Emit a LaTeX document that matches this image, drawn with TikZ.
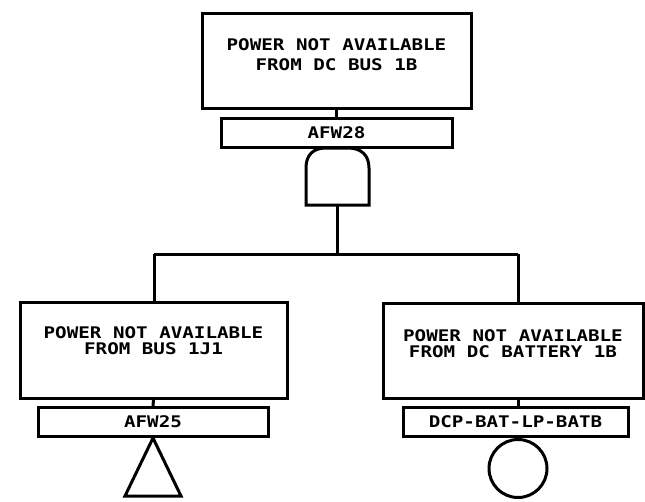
\documentclass[tikz,border=0pt]{standalone}
\usepackage{fontspec}
\newfontfamily\plotfont[FakeStretch=1.2]{DejaVu Sans Mono}
\begin{document}
\begin{tikzpicture}[x=1pt,y=-1pt,line width=3pt,
  evbox/.style={draw,fill=white,rectangle,inner sep=0pt},
  ttl/.style={font=\plotfont\bfseries\fontsize{16}{16}\selectfont,align=center,inner sep=0pt},
  lbl/.style={evbox,minimum height=29,font=\plotfont\bfseries\fontsize{16}{14}\selectfont}]
\useasboundingbox (0,0) rectangle (645,501);
% top event
\node[evbox,minimum width=269,minimum height=95] (topev) at (336.5,60.5) {};
\node[ttl,font=\plotfont\bfseries\fontsize{16}{20}\selectfont] (topt) at ([yshift=5.5pt]topev.center) {POWER NOT AVAILABLE\\FROM DC BUS 1B};
\node[lbl,minimum width=231] (g28) at (336.5,132.5) {AFW28};
\draw (topev.south) -- (g28.north);
% AND gate
\draw[fill=white] (306,205) -- (306,168) .. controls (306,155) and (313,148) .. (326,148) -- (348,148) .. controls (361,148) and (369,155) .. (369,168) -- (369,205) -- cycle;
\coordinate (andout) at (337.5,205);
\coordinate (bar) at (337.5,254);
\coordinate (barL) at (154,254);
\coordinate (barR) at (518,254);
\draw (andout) -- (bar);
\draw (barL) -- (barR);
% left event
\node[evbox,minimum width=267,minimum height=96] (lev) at (153.5,350) {};
\node[ttl] (levt) at ([yshift=9pt]lev.center) {POWER NOT AVAILABLE\\FROM BUS 1J1};
\node[lbl,minimum width=230] (g25) at (153,422) {AFW25};
\draw (barL) -- (barL |- lev.north);
\draw (lev.south) -- (g25.north);
\draw (g25.south) -- ++(-28,58) -- ++(56,0) -- cycle;
% right event
\node[evbox,minimum width=260,minimum height=95] (rev) at (513,350.5) {};
\node[ttl] (revt) at ([yshift=6.5pt]rev.center) {POWER NOT AVAILABLE\\FROM DC BATTERY 1B};
\node[lbl,minimum width=225] (gB) at (515.5,422) {DCP-BAT-LP-BATB};
\draw (barR) -- (barR |- rev.north);
\draw (barR |- rev.south) -- (barR |- gB.north);
\node[draw,circle,minimum size=58,inner sep=0pt,anchor=north] (bat) at (barR |- gB.south) {};
\end{tikzpicture}
\end{document}
